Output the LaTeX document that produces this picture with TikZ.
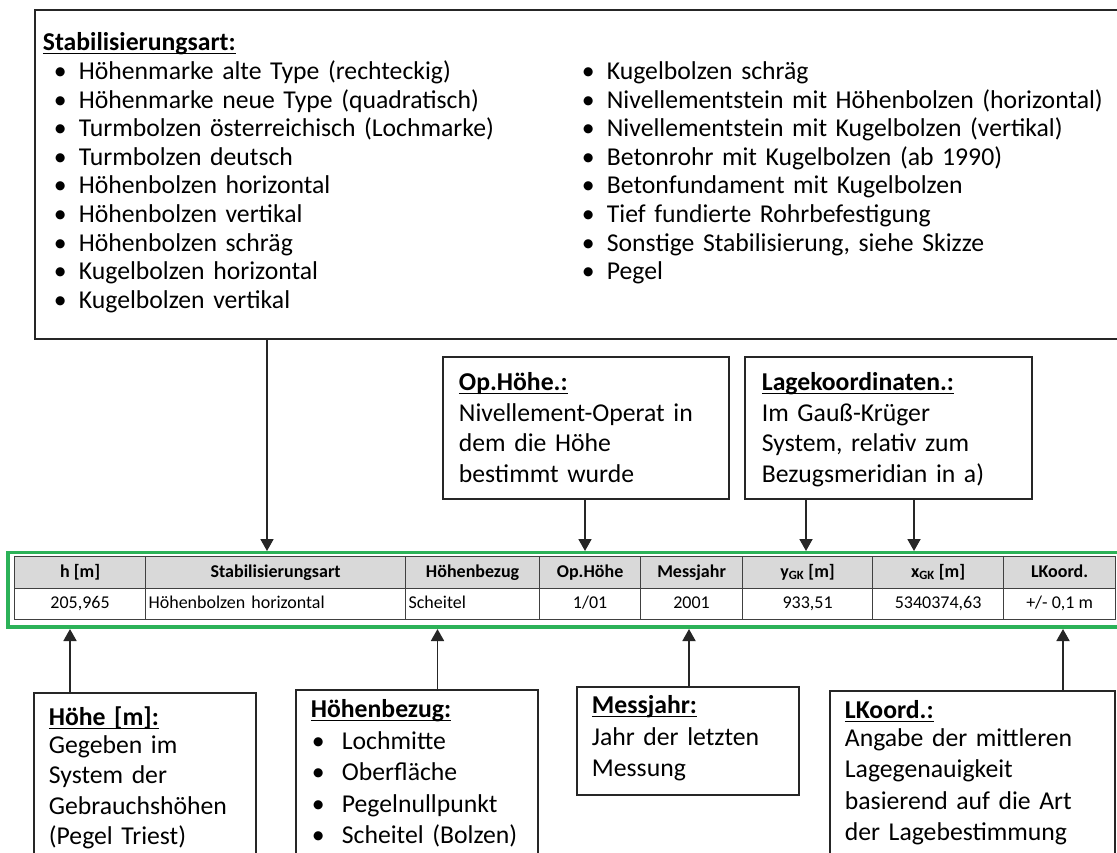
\documentclass[tikz,border=0pt]{standalone}
\usepackage{fontspec}
\setmainfont{Carlito}
\usetikzlibrary{arrows.meta}

\definecolor{framegreen}{RGB}{44,178,88}
\definecolor{headgray}{RGB}{217,217,217}
\definecolor{gridgray}{RGB}{64,64,64}

% underlined bold heading of a box
\newcommand{\boxhead}[1]{\textbf{\setbox0\hbox{#1}\rlap{\rule[-3.5pt]{\wd0}{1.7pt}}\box0}}
\newcommand{\bul}[1][25pt]{\makebox[#1][l]{\textbullet}}

\tikzset{
  infobox/.style={draw=black!85, line width=1.8pt, anchor=north west, align=left,
    inner xsep=15pt, inner ysep=0pt, font=\fontsize{25.7}{31.5}\selectfont},
  hcell/.style={draw=gridgray, line width=1.2pt, fill=headgray, anchor=north west,
    minimum height=32pt, inner sep=0pt, text height=13pt, text depth=4pt,
    font=\fontsize{18}{20}\selectfont\bfseries},
  dcell/.style={draw=gridgray, line width=1.2pt, anchor=north west,
    minimum height=31pt, inner sep=0pt, text height=13pt, text depth=4pt,
    font=\fontsize{18}{20}\selectfont},
  lcell/.style={dcell, inner xsep=3pt, align=left},
  arr/.style={-{Triangle[width=13pt,length=12pt]}, line width=1.8pt, black!85},
}

\begin{document}
\begin{tikzpicture}[x=1pt, y=-1pt]
  \useasboundingbox (0,0) rectangle (1117,852);
  \clip (0,0) rectangle (1117,852);
  \fill[white] (0,0) rectangle (1117,852);

  % table with its green frame
  \draw[framegreen, line width=3.5pt] (8,552.5) rectangle (1130,627);

  \node[hcell, minimum width=131pt] (hH) at (14,556) {h [m]};
  \node[hcell, minimum width=260pt] (hStab) at (145,556) {Stabilisierungsart};
  \node[hcell, minimum width=134pt] (hBez) at (405,556) {Höhenbezug};
  \node[hcell, minimum width=101pt] (hOp) at (539,556) {Op.Höhe};
  \node[hcell, minimum width=102pt] (hMess) at (640,556) {Messjahr};
  \node[hcell, minimum width=130pt] (hY) at (742,556) {y\textsubscript{GK} [m]};
  \node[hcell, minimum width=131pt] (hX) at (872,556) {x\textsubscript{GK} [m]};
  \node[hcell, minimum width=112pt] (hLK) at (1003,556) {LKoord.};

  \node[dcell, minimum width=131pt] (dH) at (14,588) {205,965};
  \node[lcell, text width=254pt] (dStab) at (145,588) {Höhenbolzen horizontal};
  \node[lcell, text width=128pt] (dBez) at (405,588) {Scheitel};
  \node[dcell, minimum width=101pt] (dOp) at (539,588) {1/01};
  \node[dcell, minimum width=102pt] (dMess) at (640,588) {2001};
  \node[dcell, minimum width=130pt] (dY) at (742,588) {933,51};
  \node[dcell, minimum width=131pt] (dX) at (872,588) {5340374,63};
  \node[dcell, minimum width=112pt] (dLK) at (1003,588) {+/- 0,1 m};

  % boxes above the table
  \node[infobox, inner xsep=8pt, text width=1090pt, text height=41pt, text depth=288pt,
    font=\fontsize{25.7}{28.6}\selectfont] (stab) at (34,9) {\boxhead{Stabilisierungsart:}\\
    \begin{tabular}[t]{@{\hspace{11pt}}p{528pt}@{}l@{}}
      \bul Höhenmarke alte Type (rechteckig) & \bul Kugelbolzen schräg\\
      \bul Höhenmarke neue Type (quadratisch) & \bul Nivellementstein mit Höhenbolzen (horizontal)\\
      \bul Turmbolzen österreichisch (Lochmarke) & \bul Nivellementstein mit Kugelbolzen (vertikal)\\
      \bul Turmbolzen deutsch & \bul Betonrohr mit Kugelbolzen (ab 1990)\\
      \bul Höhenbolzen horizontal & \bul Betonfundament mit Kugelbolzen\\
      \bul Höhenbolzen vertikal & \bul Tief fundierte Rohrbefestigung\\
      \bul Höhenbolzen schräg & \bul Sonstige Stabilisierung, siehe Skizze\\
      \bul Kugelbolzen horizontal & \bul Pegel\\
      \bul Kugelbolzen vertikal &
    \end{tabular}};

  \node[infobox, inner xsep=16pt, text width=254pt, text height=34pt, text depth=108pt,
    font=\fontsize{25.7}{30.5}\selectfont] (ophoehe) at (442,356)
    {\boxhead{Op.Höhe.:}\\ Nivellement-Operat in\\ dem die Höhe\\ bestimmt wurde};
  \node[infobox, inner xsep=17pt, text width=253pt, text height=34pt, text depth=108pt,
    font=\fontsize{25.7}{30.5}\selectfont] (lage) at (744,356)
    {\boxhead{Lagekoordinaten.:}\\ Im Gauß-Krüger\\ System, relativ zum\\ Bezugsmeridian in a)};

  % boxes below the table
  \node[infobox, text width=192pt, text height=33pt, text depth=145pt,
    font=\fontsize{25.7}{30.5}\selectfont] (hoehe) at (33,692)
    {\boxhead{Höhe [m]:}\\[-3pt] Gegeben im\\ System der\\ Gebrauchshöhen\\ (Pegel Triest)};
  \node[infobox, text width=212pt, text height=28pt, text depth=153pt] (hbezug) at (295,689)
    {\boxhead{Höhenbezug:}\\ \hspace*{1pt}\bul[30pt]Lochmitte\\ \hspace*{1pt}\bul[30pt]Oberfläche\\
     \hspace*{1pt}\bul[30pt]Pegelnullpunkt\\ \hspace*{1pt}\bul[30pt]Scheitel (Bolzen)};
  \node[infobox, text width=192pt, text height=27pt, text depth=81pt] (messjahr) at (576,686)
    {\boxhead{Messjahr:}\\ Jahr der letzten\\ Messung};
  \node[infobox, text width=255pt, text height=28pt, text depth=152pt] (lkoord) at (829,690)
    {\boxhead{LKoord.:}\\[-4pt] Angabe der mittleren\\ Lagegenauigkeit\\ basierend auf die Art\\ der Lagebestimmung};

  % arrow feet on the frame
  \coordinate (inStab) at (267,551);
  \coordinate (inOp) at (585,551);
  \coordinate (inY) at (806,551);
  \coordinate (inX) at (914,551);
  \coordinate (inH) at (70,629);
  \coordinate (inBez) at (437.5,629);
  \coordinate (inMess) at (689,629);
  \coordinate (inLK) at (1063,629);

  \draw[arr] (stab.south -| inStab) -- (inStab);
  \draw[arr] (ophoehe.south -| inOp) -- (inOp);
  \draw[arr] (lage.south -| inY) -- (inY);
  \draw[arr] (lage.south -| inX) -- (inX);
  \draw[arr] (hoehe.north -| inH) -- (inH);
  \draw[arr] (hbezug.north -| inBez) -- (inBez);
  \draw[arr] (messjahr.north -| inMess) -- (inMess);
  \draw[arr] (lkoord.north -| inLK) -- (inLK);
\end{tikzpicture}
\end{document}
